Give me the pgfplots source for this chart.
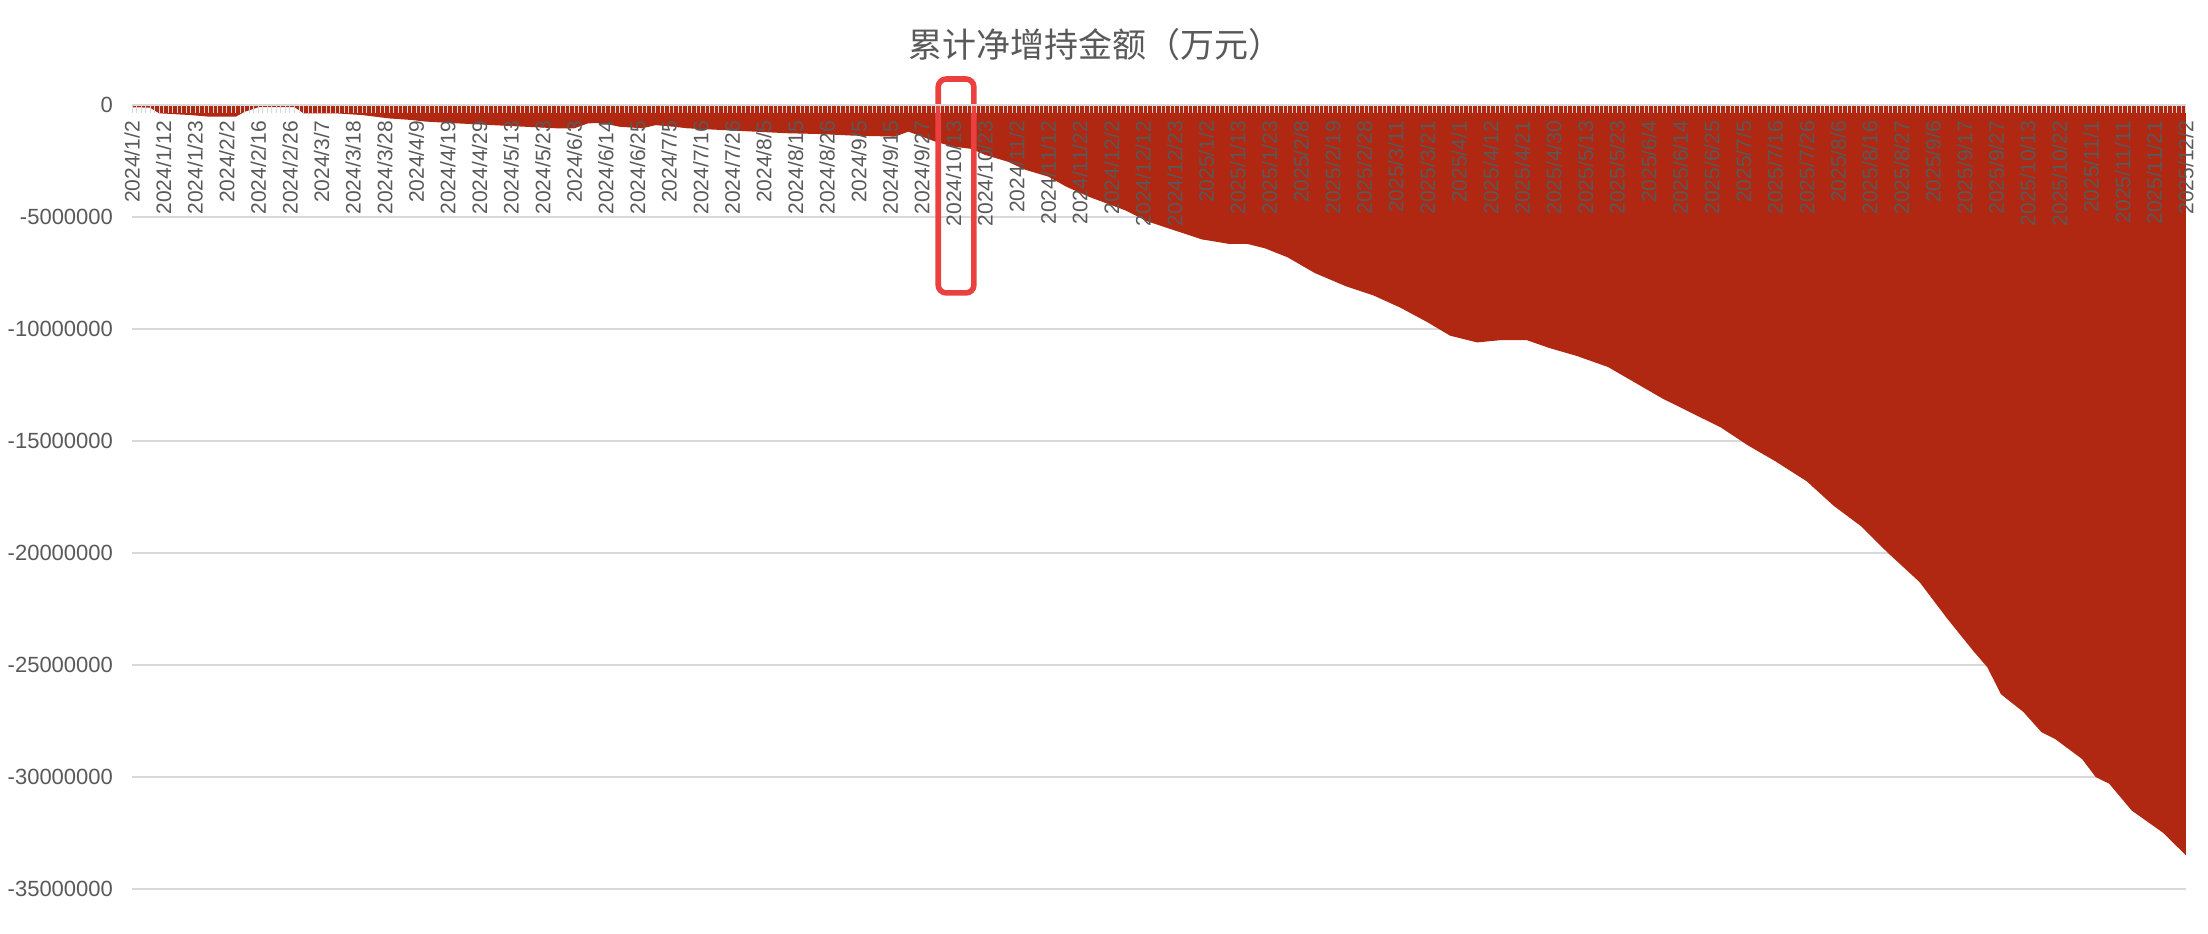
\documentclass[border=0pt]{standalone}
\usepackage{fontspec}
\setmainfont{Liberation Sans}
\newfontfamily\cjk{Noto Sans CJK SC}
\usepackage{pgfplots}
\pgfplotsset{compat=1.18}

\definecolor{barred}{RGB}{176,39,18}
\definecolor{txtgray}{RGB}{89,89,89}
\definecolor{gridgray}{RGB}{217,217,217}
\definecolor{boxred}{RGB}{234,64,64}

% ticks and labels over the area, grid behind it
\pgfplotsset{
  layers/chartlayers/.define layer set={
    axis background,axis grid,main,axis ticks,axis lines,axis tick labels,
    axis descriptions,axis foreground
  }{/pgfplots/layers/standard},
}

\begin{document}
\begin{tikzpicture}
\begin{axis}[
  set layers=chartlayers,
  scale only axis,
  width=1027pt, height=392pt,
  at={(66pt,22pt)}, anchor=south west,
  xmin=0, xmax=455,
  ymin=-35000000, ymax=0,
  clip=false,
  scaled y ticks=false,
  separate axis lines,
  x axis line style={draw=gridgray, line width=1pt},
  y axis line style={draw=none},
  ymajorgrids,
  major grid style={draw=gridgray, line width=1pt},
  ytick={-35000000,-30000000,-25000000,-20000000,-15000000,-10000000,-5000000,0},
  yticklabels={-35000000,-30000000,-25000000,-20000000,-15000000,-10000000,-5000000,0},
  ytick style={draw=none},
  ytick pos=left,
  yticklabel style={font=\fontsize{11}{13}\selectfont, text=txtgray, xshift=-6pt},
  xtick={0,7,...,455},
  minor x tick num=6,
  xtick pos=right,
  xticklabel pos=right,
  tick align=inside,
  major tick length=4pt,
  minor tick length=4pt,
  xtick style={draw=gridgray, line width=0.5pt},
  minor tick style={draw=gridgray, line width=0.5pt},
  xticklabel style={yshift=-4.5pt, rotate=90, anchor=east,
    font=\fontsize{10.5}{12}\selectfont, text=txtgray},
  xticklabels={2024/1/2,2024/1/12,2024/1/23,2024/2/2,2024/2/16,2024/2/26,2024/3/7,2024/3/18,2024/3/28,2024/4/9,2024/4/19,2024/4/29,2024/5/13,2024/5/23,2024/6/3,2024/6/14,2024/6/25,2024/7/5,2024/7/16,2024/7/26,2024/8/5,2024/8/15,2024/8/26,2024/9/5,2024/9/15,2024/9/27,2024/10/13,2024/10/23,2024/11/2,2024/11/12,2024/11/22,2024/12/2,2024/12/12,2024/12/23,2025/1/2,2025/1/13,2025/1/23,2025/2/8,2025/2/19,2025/2/28,2025/3/11,2025/3/21,2025/4/1,2025/4/12,2025/4/21,2025/4/30,2025/5/13,2025/5/23,2025/6/4,2025/6/14,2025/6/25,2025/7/5,2025/7/16,2025/7/26,2025/8/6,2025/8/16,2025/8/27,2025/9/6,2025/9/17,2025/9/27,2025/10/13,2025/10/22,2025/11/1,2025/11/11,2025/11/21,2025/12/2},
]
\addplot[fill=barred, draw=none] coordinates {
(0,-100000) (4,-120000) (6,-370000) (13,-450000) (17,-520000) (23,-520000)
(25,-300000) (28,-100000) (36,-100000) (38,-370000) (45,-370000) (51,-450000)
(57,-600000) (62,-670000) (65,-740000) (72,-820000) (79,-890000) (87,-970000)
(94,-1040000) (98,-1040000) (101,-820000) (104,-800000) (108,-970000) (113,-1040000)
(116,-900000) (120,-970000) (123,-1040000) (131,-1120000) (138,-1190000) (145,-1260000)
(153,-1300000) (160,-1370000) (169,-1410000) (172,-1190000) (175,-1410000) (178,-1640000)
(182,-1860000) (186,-1960000) (189,-2230000) (194,-2530000) (198,-2900000) (203,-3200000)
(207,-3650000) (212,-4100000) (216,-4400000) (220,-4700000) (225,-5200000) (231,-5600000)
(237,-6000000) (243,-6200000) (247,-6200000) (251,-6400000) (256,-6800000) (262,-7500000)
(269,-8100000) (275,-8500000) (281,-9050000) (287,-9700000) (292,-10300000) (298,-10600000)
(303,-10500000) (309,-10500000) (314,-10850000) (320,-11200000) (327,-11700000) (333,-12400000)
(339,-13100000) (345,-13700000) (352,-14400000) (358,-15200000) (364,-15900000) (371,-16800000)
(377,-17900000) (383,-18800000) (389,-20000000) (396,-21300000) (399,-22100000) (402,-22900000)
(408,-24400000) (411,-25100000) (414,-26300000) (419,-27100000) (423,-28000000) (426,-28300000)
(432,-29200000) (435,-30000000) (438,-30300000) (443,-31500000) (450,-32500000) (455,-33500000)
} \closedcycle;

% highlight round the 2024/10 label
\draw[boxred, line width=2.8pt, rounded corners=4pt]
  (axis cs:178.6,1160000) rectangle (axis cs:186.5,-8390000);
\end{axis}

\node[text=txtgray, font=\cjk\fontsize{17}{20}\selectfont] at (547.5pt,444pt)
  {累计净增持金额（万元）};

\pgfresetboundingbox
\path[use as bounding box] (0,0) rectangle (1104pt,466.5pt);
\end{tikzpicture}
\end{document}
